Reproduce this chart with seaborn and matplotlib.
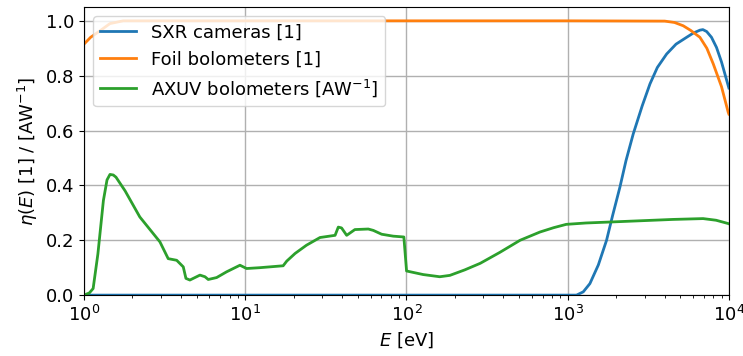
import numpy as np
import pandas as pd
import matplotlib
matplotlib.use("Agg")
import matplotlib.pyplot as plt
import seaborn as sns

# Data
sxr_E = [1, 10, 100, 1000, 1135, 1250, 1374, 1550, 1743, 1900, 2110, 2300, 2552, 2900, 3240, 3600, 4110, 4700,
         5470, 6000, 6610, 6900, 7280, 7800, 8380, 9000, 9900, 10000]
sxr_v = [0, 0, 0, 0, 0, 0.012, 0.042, 0.11, 0.2, 0.29, 0.394, 0.49, 0.588, 0.69, 0.77, 0.83, 0.879, 0.915,
         0.94, 0.955, 0.966, 0.968, 0.961, 0.94, 0.903, 0.85, 0.764, 0.755]

foil_E = [1, 1.1, 1.26, 1.45, 1.75, 10, 100, 1000, 4000, 4600, 5210, 5800, 6610, 7300, 8000, 9000, 9900, 10000]
foil_v = [0.915, 0.94, 0.964, 0.99, 1.0, 1.0, 1.0, 1.0, 0.999, 0.994, 0.982, 0.965, 0.94, 0.9, 0.843, 0.76, 0.667, 0.66]

axuv_E = [1, 1.08, 1.14, 1.22, 1.32, 1.39, 1.45, 1.52, 1.58, 1.8, 2.22, 2.96, 3.33, 3.76, 4.13, 4.29, 4.54, 5.24, 5.63,
          5.9, 6.65, 7.67, 9.28, 9.73, 10.2, 12.3, 17.2, 18.1, 20.4, 24, 29.1, 36.1, 37.8, 39.6, 42.6, 47.9, 58, 62.3,
          70.2, 82.8, 96.4, 100.2, 127, 161, 186, 230, 287, 380, 507, 673, 820, 980, 1300, 1740, 4510, 6920, 8330, 9900, 10000]
axuv_v = [0.0, 0.008, 0.024, 0.15, 0.345, 0.42, 0.44, 0.438, 0.43, 0.38, 0.285, 0.194, 0.133, 0.127, 0.103, 0.061,
          0.055, 0.073, 0.067, 0.057, 0.064, 0.085, 0.109, 0.103, 0.097, 0.1, 0.107, 0.124, 0.152, 0.182, 0.21, 0.218,
          0.248, 0.245, 0.218, 0.239, 0.241, 0.236, 0.222, 0.215, 0.212, 0.088, 0.075, 0.067, 0.072, 0.092, 0.116, 0.156,
          0.2, 0.23, 0.246, 0.258, 0.263, 0.266, 0.276, 0.279, 0.273, 0.261, 0.26]

labels = ["SXR cameras [1]", "Foil bolometers [1]", r"AXUV bolometers [AW$^{-1}$]"]

df = pd.concat([
    pd.DataFrame({"E": sxr_E, "eta": sxr_v, "det": labels[0]}),
    pd.DataFrame({"E": foil_E, "eta": foil_v, "det": labels[1]}),
    pd.DataFrame({"E": axuv_E, "eta": axuv_v, "det": labels[2]}),
])

plt.rcParams["font.size"] = 13
fig, ax = plt.subplots(figsize=(7.43, 3.56), dpi=100)
fig.subplots_adjust(left=0.113, right=0.981, bottom=0.171, top=0.980)

sns.lineplot(data=df, x="E", y="eta", hue="det", palette=["#1f77b4", "#ff7f0e", "#2ca02c"],
             linewidth=2, sort=False, ax=ax)
ax.set_xscale("log")
ax.set_xlim(1, 1e4)
ax.set_ylim(0, 1.05)
ax.grid(True, which="major", color="#b0b0b0", linewidth=1)
ax.set_xlabel(r"$E$ [eV]", fontsize=13)
ax.set_ylabel(r"$\eta(E)$ [1] / [AW$^{-1}$]", fontsize=13)
ax.tick_params(labelsize=13)
ax.legend(loc="upper left", fontsize=13, title=None, handlelength=2, borderaxespad=0.5)

fig.savefig("out.png", dpi=100)
